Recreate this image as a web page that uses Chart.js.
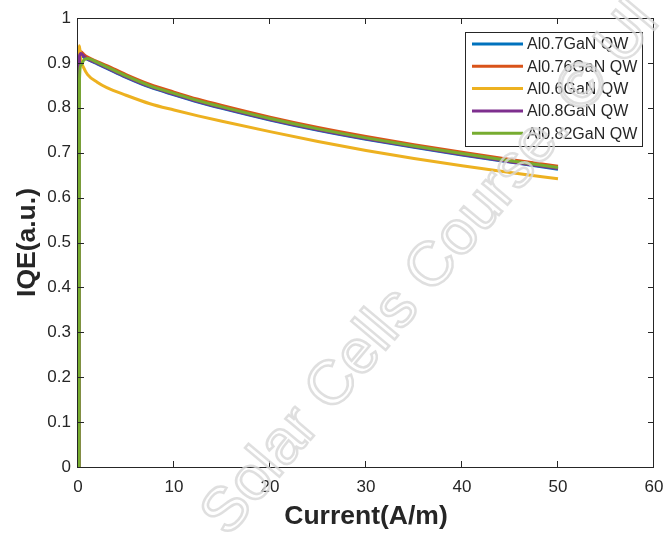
<!DOCTYPE html>
<html>
<head>
<meta charset="utf-8">
<script src="https://cdn.jsdelivr.net/npm/chart.js@4.4.0/dist/chart.umd.min.js"></script>
<style>
  html, body { margin: 0; padding: 0; background: #fff; }
  #wrap { width: 665px; height: 533px; }
</style>
</head>
<body>
<div id="wrap"><canvas id="myChart" width="665" height="533"></canvas></div>
<script>
// current values shared by every curve (A/m)
const current = [0.12, 0.15, 0.3, 0.6, 1, 2, 3, 5, 7.5, 10, 12.5, 15, 20, 25, 30, 35, 40, 45, 50];

// IQE for each quantum well composition
const iqeAl070 = [0, 0.900, 0.916, 0.913, 0.908, 0.898, 0.888, 0.868, 0.846, 0.829, 0.813, 0.799, 0.773, 0.750, 0.730, 0.712, 0.695, 0.679, 0.663];
const iqeAl076 = [0, 0.912, 0.925, 0.919, 0.913, 0.903, 0.894, 0.874, 0.852, 0.835, 0.819, 0.805, 0.779, 0.756, 0.736, 0.718, 0.701, 0.685, 0.670];
const iqeAl060 = [0, 0.938, 0.907, 0.889, 0.874, 0.857, 0.845, 0.828, 0.809, 0.795, 0.782, 0.770, 0.747, 0.725, 0.705, 0.687, 0.671, 0.656, 0.642];
const iqeAl080 = [0, 0.915, 0.921, 0.915, 0.909, 0.899, 0.889, 0.869, 0.847, 0.830, 0.814, 0.800, 0.774, 0.751, 0.731, 0.713, 0.696, 0.680, 0.665];
const iqeAl082 = [0, 0.860, 0.895, 0.906, 0.910, 0.901, 0.891, 0.871, 0.849, 0.832, 0.816, 0.802, 0.776, 0.753, 0.733, 0.715, 0.698, 0.682, 0.667];

const seriesNames = ['Al0.7GaN QW', 'Al0.76GaN QW', 'Al0.6GaN QW', 'Al0.8GaN QW', 'Al0.82GaN QW'];
const seriesValues = [iqeAl070, iqeAl076, iqeAl060, iqeAl080, iqeAl082];
const seriesColors = ['#0072BD', '#D95319', '#EDB120', '#7E2F8E', '#77AC30'];

const xTicks = [0, 10, 20, 30, 40, 50, 60];
const yTicks = [0, 0.1, 0.2, 0.3, 0.4, 0.5, 0.6, 0.7, 0.8, 0.9, 1];

const AXIS_COLOR = '#262626';
const FONT = 'Liberation Sans, Arial, sans-serif';

// matlab style box: frame on all four sides with inward ticks
const boxPlugin = {
    id: 'box',
    afterDraw(chart) {
        const {ctx, chartArea: a, scales} = chart;
        ctx.save();
        ctx.strokeStyle = AXIS_COLOR;
        ctx.lineWidth = 1;
        ctx.strokeRect(Math.round(a.left) - 0.5, Math.round(a.top) + 0.5,
            Math.round(a.right - a.left), Math.round(a.bottom - a.top));
        const len = 6;
        ctx.beginPath();
        xTicks.forEach(v => {
            const x = Math.round(scales.x.getPixelForValue(v)) - 0.5;
            ctx.moveTo(x, a.bottom); ctx.lineTo(x, a.bottom - len);
            ctx.moveTo(x, a.top); ctx.lineTo(x, a.top + len);
        });
        yTicks.forEach(v => {
            const y = Math.round(scales.y.getPixelForValue(v)) + 0.5;
            ctx.moveTo(a.left, y); ctx.lineTo(a.left + len, y);
            ctx.moveTo(a.right, y); ctx.lineTo(a.right - len, y);
        });
        ctx.stroke();
        ctx.restore();
    }
};

// boxed legend in the upper right corner
const legendPlugin = {
    id: 'boxLegend',
    afterDraw(chart) {
        const ctx = chart.ctx;
        const left = 465, top = 32, width = 177, height = 114;
        ctx.save();
        ctx.fillStyle = '#fff';
        ctx.fillRect(left, top, width, height);
        ctx.strokeStyle = AXIS_COLOR;
        ctx.lineWidth = 1;
        ctx.strokeRect(left + 0.5, top + 0.5, width, height);
        ctx.font = '16px ' + FONT;
        ctx.textBaseline = 'middle';
        ctx.fillStyle = AXIS_COLOR;
        chart.data.datasets.forEach((ds, i) => {
            const y = top + 12 + i * 22.3;
            ctx.strokeStyle = ds.borderColor;
            ctx.lineWidth = 3;
            ctx.beginPath();
            ctx.moveTo(left + 7, y);
            ctx.lineTo(left + 58, y);
            ctx.stroke();
            ctx.fillText(ds.label, left + 62, y + 1);
        });
        ctx.restore();
    }
};

// faint diagonal watermark over the plot
const watermarkPlugin = {
    id: 'watermark',
    afterDraw(chart) {
        const ctx = chart.ctx;
        ctx.save();
        ctx.translate(228, 538);
        ctx.rotate(-50 * Math.PI / 180);
        ctx.font = '62px ' + FONT;
        ctx.textBaseline = 'alphabetic';
        ctx.strokeStyle = 'rgba(215, 215, 215, 0.8)';
        ctx.lineWidth = 2.5;
        ctx.strokeText('Solar Cells Course. \u00A9 Ul', 0, 0);
        ctx.restore();
    }
};

const datasets = seriesNames.map((name, i) => ({
    label: name,
    data: current.map((c, k) => ({x: c, y: seriesValues[i][k]})),
    borderColor: seriesColors[i],
    backgroundColor: seriesColors[i],
    borderWidth: 3,
    pointRadius: 0,
    cubicInterpolationMode: 'monotone',
    order: seriesNames.length - i
}));

const tickText = v => String(Number(v.toFixed(1)));

new Chart(document.getElementById('myChart').getContext('2d'), {
    type: 'line',
    data: { datasets: datasets },
    options: {
        responsive: false,
        animation: false,
        events: [],
        layout: { padding: { left: 0, top: 18, right: 0, bottom: 0 } },
        plugins: {
            legend: { display: false },
            tooltip: { enabled: false }
        },
        scales: {
            x: {
                type: 'linear',
                min: 0,
                max: 60,
                afterBuildTicks: s => { s.ticks = xTicks.map(v => ({value: v})); },
                afterFit: s => { s.height = 66; s.paddingRight = 11; },
                grid: { display: false, drawTicks: false },
                border: { display: false },
                ticks: { padding: 10, color: AXIS_COLOR, font: { family: FONT, size: 17 }, maxRotation: 0, callback: tickText },
                title: {
                    display: true,
                    text: 'Current(A/m)',
                    color: AXIS_COLOR,
                    font: { family: FONT, size: 26.5, weight: 'bold' },
                    padding: { top: 0, bottom: 0 }
                }
            },
            y: {
                type: 'linear',
                min: 0,
                max: 1,
                afterBuildTicks: s => { s.ticks = yTicks.map(v => ({value: v})); },
                afterFit: s => { s.width = 78; },
                grid: { display: false, drawTicks: false },
                border: { display: false },
                ticks: { padding: 7, color: AXIS_COLOR, font: { family: FONT, size: 17 }, callback: tickText },
                title: {
                    display: true,
                    text: 'IQE(a.u.)',
                    color: AXIS_COLOR,
                    font: { family: FONT, size: 26.5, weight: 'bold' },
                    padding: { top: 12, bottom: 0 }
                }
            }
        }
    },
    plugins: [boxPlugin, legendPlugin, watermarkPlugin]
});
</script>
</body>
</html>
